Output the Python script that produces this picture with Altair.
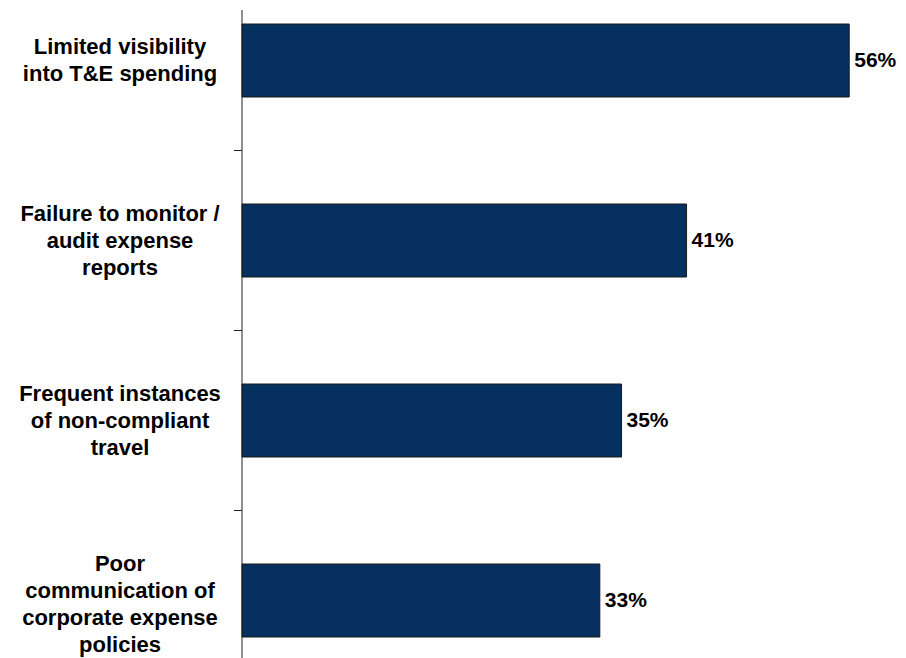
import altair as alt
import pandas as pd

categories = [
    "Limited visibility|into T&E spending",
    "Failure to monitor /|audit expense|reports",
    "Frequent instances|of non-compliant|travel",
    "Poor|communication of|corporate expense|policies",
]
values = [56, 41, 35, 33]
value_labels = ["56%", "41%", "35%", "33%"]

df = pd.DataFrame({"cat": categories, "val": values, "lab": value_labels})
df["nlines"] = [len(c.split("|")) for c in categories]
sep_df = pd.DataFrame({"cat": categories[1:]})
line_df = pd.DataFrame({"a": [0]})

H = 648
W = 656
FONT = "Liberation Sans"
BAR = "#05305f"
LH = 27

yscale = alt.Scale(domain=categories, range=[-39.5, 680.5], paddingInner=0, paddingOuter=0)
xscale = alt.Scale(domain=[0, 60.5])

y_enc = alt.Y("cat:N", scale=yscale, sort=categories, axis=None)

bars = alt.Chart(df).mark_bar(size=73, color=BAR, stroke="#1a1a1a", strokeWidth=1).encode(
    y=y_enc,
    x=alt.X("val:Q", scale=xscale, axis=None),
)

texts = alt.Chart(df).mark_text(
    align="left", baseline="middle", dx=5, fontSize=21, fontWeight="bold", font=FONT, color="black"
).encode(
    y=y_enc,
    x=alt.X("val:Q", scale=xscale, axis=None),
    text="lab:N",
)

# category labels (multi-line), vertical shift depending on the number of lines
label_layers = []
for n, shift in [(2, -13.5), (3, -27), (4, -37)]:
    label_layers.append(
        alt.Chart(df)
        .transform_filter(f"datum.nlines == {n}")
        .mark_text(
            align="center",
            baseline="middle",
            dy=shift,
            fontSize=22,
            fontWeight="bold",
            font=FONT,
            color="black",
            lineBreak="|",
            lineHeight=LH,
        )
        .encode(y=y_enc, x=alt.value(-122), text="cat:N")
    )

ticks = alt.Chart(sep_df).mark_rule(color="#222222", strokeWidth=1).encode(
    y=alt.Y("cat:N", scale=yscale, sort=categories, bandPosition=0, axis=None),
    x=alt.value(-8),
    x2=alt.value(0),
)

axis_line = alt.Chart(line_df).mark_rule(color="#222222", strokeWidth=1).encode(
    x=alt.value(0), y=alt.value(0), y2=alt.value(H)
)

chart = (
    alt.layer(bars, texts, *label_layers, ticks, axis_line)
    .properties(
        width=W,
        height=H,
        autosize=alt.AutoSizeParams(type="none"),
        padding={"left": 234, "top": 2, "right": 0, "bottom": 8},
        background="white",
    )
    .configure_view(stroke=None)
)

chart.save("out.html", embed_options={"renderer": "svg", "actions": False})
